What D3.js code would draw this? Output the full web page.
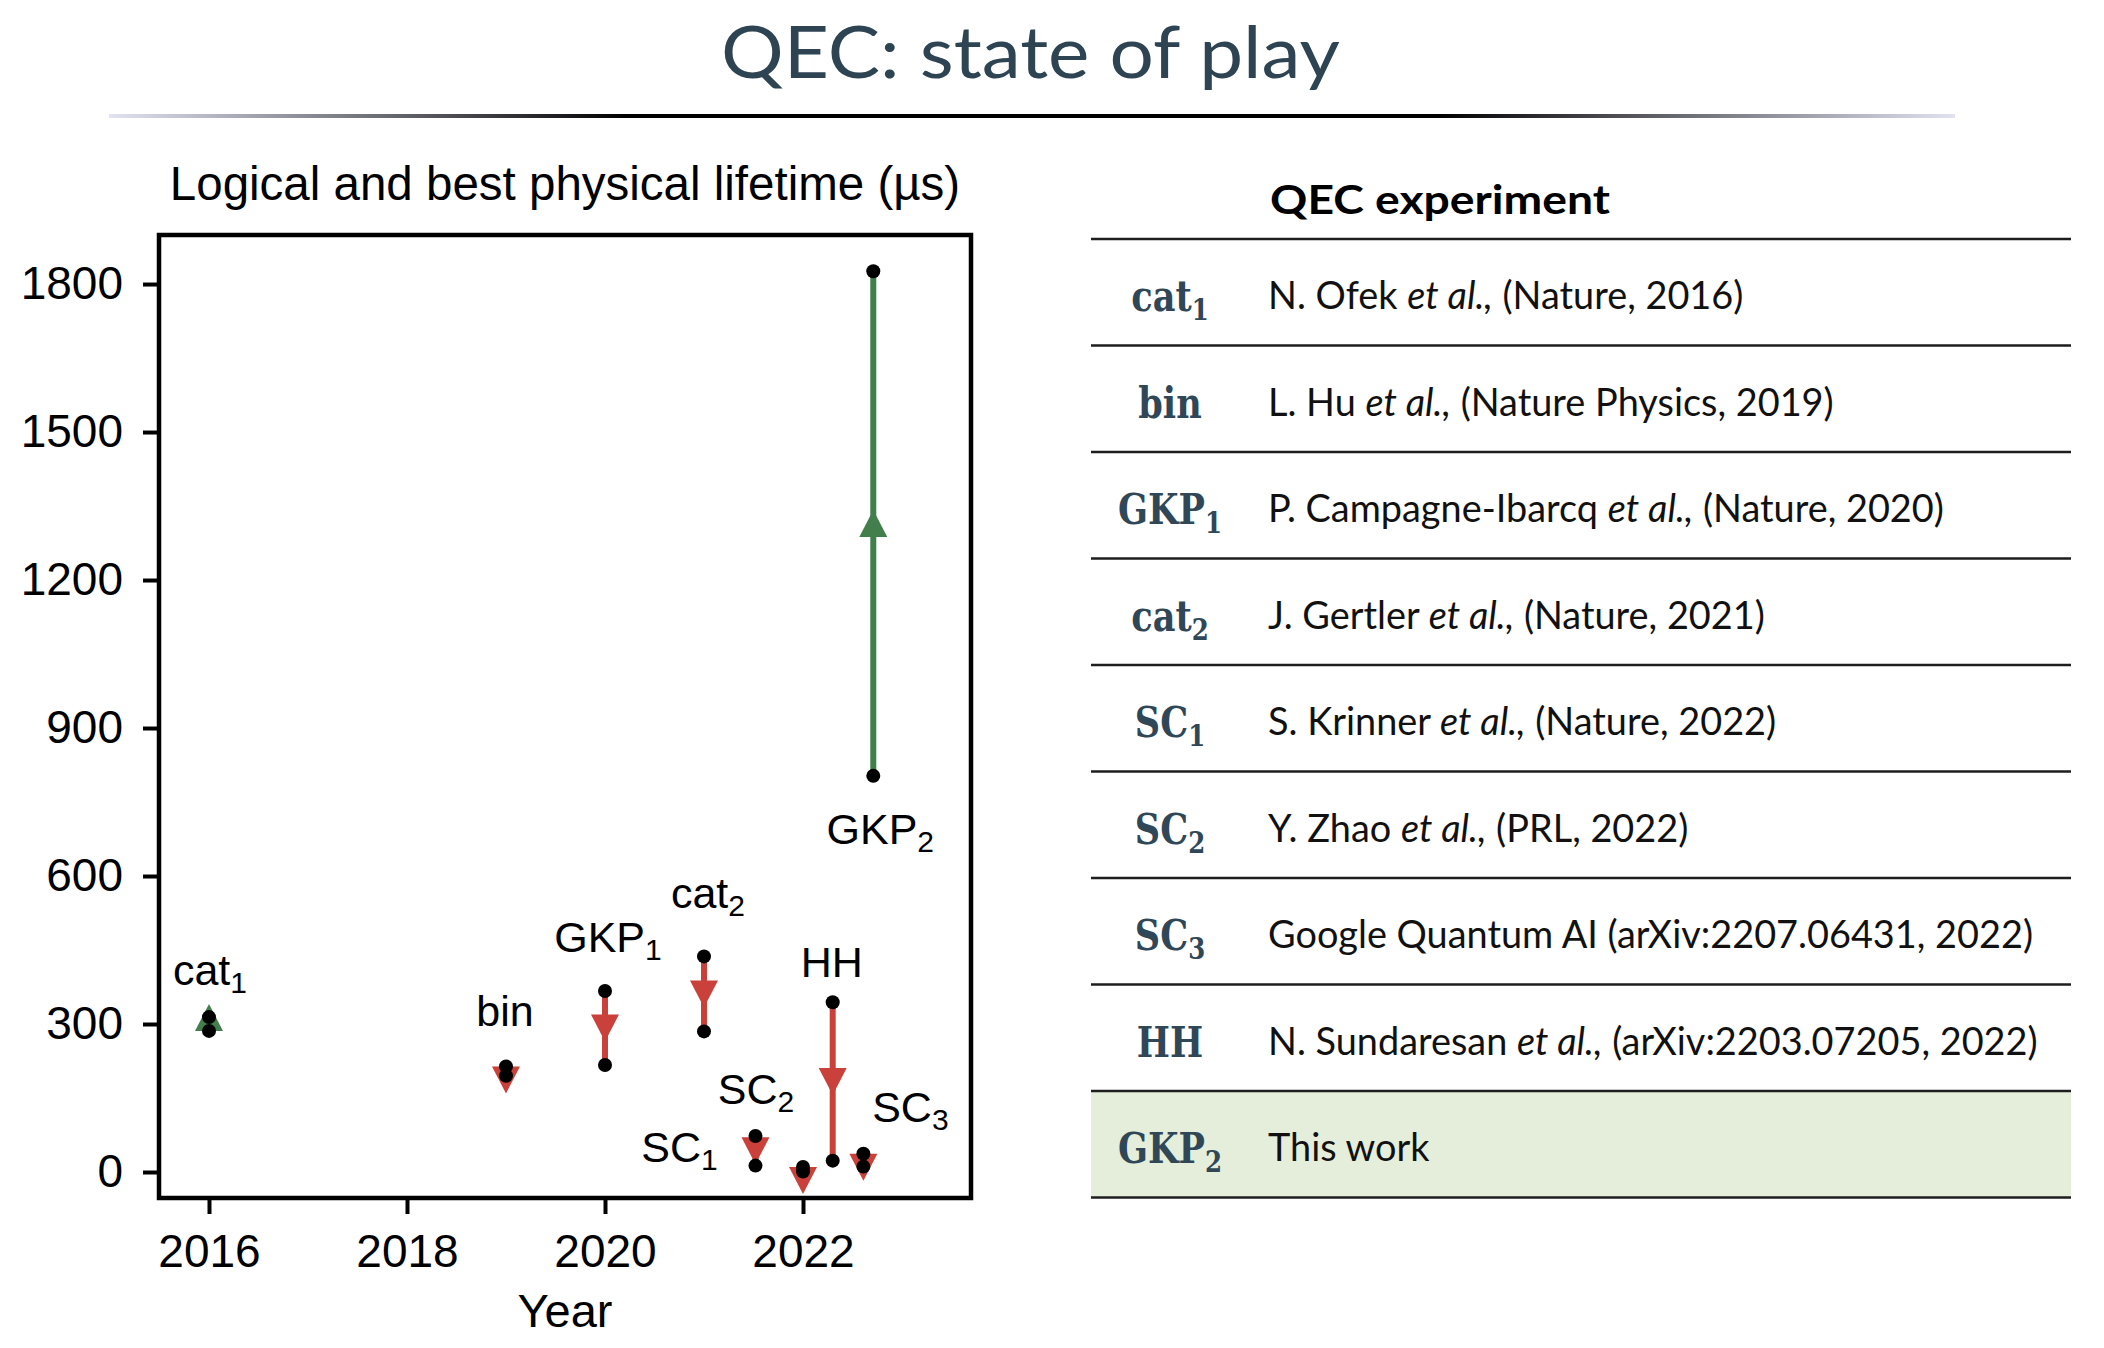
<!DOCTYPE html>
<html>
<head>
<meta charset="utf-8">
<script src="https://cdn.jsdelivr.net/npm/d3@7"></script>
<style>
body { margin: 0; background: #fff; }
</style>
</head>
<body>
<div id="chart"></div>
<script>
var width = 2104;
var height = 1348;

// Experiments, in table order
var names = ["cat", "bin", "GKP", "cat", "SC", "SC", "SC", "HH", "GKP"];
var subs = ["1", "", "1", "2", "1", "2", "3", "", "2"];
var years = [2016.0, 2019.0, 2020.0, 2021.0, 2021.52, 2022.0, 2022.61, 2022.30, 2022.71];
var physical = [286, 214, 367, 437, 73, 10, 37, 344, 803];   // best physical lifetime (us)
var logical = [314, 195, 217, 285, 13, 1, 11, 23, 1826];     // logical lifetime (us)

// Reference column
var authors = ["N. Ofek", "L. Hu", "P. Campagne-Ibarcq", "J. Gertler", "S. Krinner",
               "Y. Zhao", "Google Quantum AI", "N. Sundaresan", "This work"];
var etAl = [true, true, true, true, true, true, false, true, false];
var venues = ["(Nature, 2016)", "(Nature Physics, 2019)", "(Nature, 2020)", "(Nature, 2021)",
              "(Nature, 2022)", "(PRL, 2022)", "(arXiv:2207.06431, 2022)",
              "(arXiv:2203.07205, 2022)", ""];

var xTicks = [2016, 2018, 2020, 2022];
var yTicks = [0, 300, 600, 900, 1200, 1500, 1800];

// label placement, pixels from the physical point
var labelDx = [1, -1, 3, 4, -76, -47, 47, -1, 7];
var labelDy = [-46, -40, -39, -48, 26, -63, -32, -25, 68];

var green = "#427f4c";
var red = "#c9413a";
var slate = "#2e4453";
var sans = "'Liberation Sans', Arial, Helvetica, sans-serif";

var svg = d3.select('#chart')
			.append('svg')
			.attr('width', width)
			.attr('height', height);

svg.append('rect')
	.attr('width', width)
	.attr('height', height)
	.attr('fill', '#fff');

// Slide title and rule
svg.append('text')
	.attr('x', 721)
	.attr('y', 78)
	.attr('textLength', 619)
	.attr('lengthAdjust', 'spacingAndGlyphs')
	.style('font-family', 'Lato, sans-serif')
	.style('font-size', '72px')
	.style('fill', slate)
	.text('QEC: state of play');

var grad = svg.append('defs')
			.append('linearGradient')
			.attr('id', 'rule')
			.attr('x1', '0%').attr('x2', '100%');
[[0, '#e2e2f2'], [0.28, '#000'], [0.72, '#000'], [1, '#e2e2f2']].forEach(function(s){
	grad.append('stop').attr('offset', s[0]).attr('stop-color', s[1]);
});
svg.append('rect')
	.attr('x', 109).attr('y', 114)
	.attr('width', 1846).attr('height', 4)
	.attr('fill', 'url(#rule)');

// Chart
var x = d3.scaleLinear().domain([2015.495, 2023.697]).range([159, 971]);
var y = d3.scaleLinear().domain([-52.7, 1899.4]).range([1198, 235]);

var plot = svg.append('g');

var xAxis = plot.append('g')
	.attr('transform', 'translate(0,' + y.range()[0] + ')')
	.call(d3.axisBottom(x).tickValues(xTicks).tickFormat(d3.format('d')).tickSize(16).tickPadding(20));
var yAxis = plot.append('g')
	.attr('transform', 'translate(' + x.range()[0] + ',0)')
	.call(d3.axisLeft(y).tickValues(yTicks).tickFormat(d3.format('d')).tickSize(16).tickPadding(20));

[xAxis, yAxis].forEach(function(a){
	a.select('.domain').remove();
	a.selectAll('line').attr('stroke', '#000').attr('stroke-width', 4);
	a.selectAll('text').style('font-family', sans).style('font-size', '46px').attr('fill', '#000');
});

plot.append('text')
	.attr('x', 565).attr('y', 200)
	.attr('text-anchor', 'middle')
	.style('font-family', sans).style('font-size', '47.5px')
	.text('Logical and best physical lifetime (\u00b5s)');

plot.append('text')
	.attr('x', 565).attr('y', 1327)
	.attr('text-anchor', 'middle')
	.style('font-family', sans).style('font-size', '47px')
	.text('Year');

var idx = d3.range(names.length);
function colour(i){ return logical[i] > physical[i] ? green : red; }

plot.selectAll('line.span')
	.data(idx)
	.enter()
	.append('line')
	.attr('class', 'span')
	.attr('x1', function(i){ return x(years[i]); })
	.attr('x2', function(i){ return x(years[i]); })
	.attr('y1', function(i){ return y(physical[i]); })
	.attr('y2', function(i){ return y(logical[i]); })
	.attr('stroke', colour)
	.attr('stroke-width', 6);

// arrow head pointing from physical towards logical
var headW = 28, headH = 27;
plot.selectAll('path.head')
	.data(idx)
	.enter()
	.append('path')
	.attr('class', 'head')
	.attr('fill', colour)
	.attr('d', function(i){
		var cx = x(years[i]);
		var y0 = y(physical[i]);
		var dy = y(logical[i]) - y0;
		var s = dy < 0 ? -1 : 1;
		var tip = y0 + s * Math.max(Math.abs(dy) / 2 + headH / 2, headH);
		var base = tip - s * headH;
		return 'M' + (cx - headW / 2) + ',' + base + 'L' + (cx + headW / 2) + ',' + base + 'L' + cx + ',' + tip + 'Z';
	});

var dots = [];
idx.forEach(function(i){
	dots.push([years[i], physical[i]]);
	dots.push([years[i], logical[i]]);
});
plot.selectAll('circle')
	.data(dots)
	.enter()
	.append('circle')
	.attr('cx', function(d){ return x(d[0]); })
	.attr('cy', function(d){ return y(d[1]); })
	.attr('r', 7)
	.attr('fill', '#000');

var labels = plot.selectAll('text.lab')
	.data(idx)
	.enter()
	.append('text')
	.attr('class', 'lab')
	.attr('x', function(i){ return x(years[i]) + labelDx[i]; })
	.attr('y', function(i){ return y(physical[i]) + labelDy[i]; })
	.attr('text-anchor', 'middle')
	.style('font-family', sans)
	.style('font-size', '43px');
labels.append('tspan').text(function(i){ return names[i]; });
labels.append('tspan')
	.attr('dy', 8)
	.style('font-size', '30px')
	.text(function(i){ return subs[i]; });

plot.append('rect')
	.attr('x', x.range()[0]).attr('y', y.range()[1])
	.attr('width', x.range()[1] - x.range()[0])
	.attr('height', y.range()[0] - y.range()[1])
	.attr('fill', 'none')
	.attr('stroke', '#000')
	.attr('stroke-width', 4.5);

// Table
var table = svg.append('g');
var rowY = d3.scaleLinear().domain([0, names.length]).range([239, 1197.6]);

table.append('rect')
	.attr('x', 1091).attr('y', rowY(8))
	.attr('width', 980).attr('height', rowY(9) - rowY(8))
	.attr('fill', '#e5eedb');

table.selectAll('line')
	.data(d3.range(names.length + 1))
	.enter()
	.append('line')
	.attr('x1', 1091).attr('x2', 2071)
	.attr('y1', function(k){ return rowY(k); })
	.attr('y2', function(k){ return rowY(k); })
	.attr('stroke', '#1e1e1e')
	.attr('stroke-width', 2.5);

table.append('text')
	.attr('x', 1270).attr('y', 214)
	.attr('textLength', 340)
	.attr('lengthAdjust', 'spacingAndGlyphs')
	.style('font-family', 'Lato, sans-serif')
	.style('font-size', '41px')
	.style('font-weight', 'bold')
	.text('QEC experiment');

var keys = table.selectAll('text.key')
	.data(idx)
	.enter()
	.append('text')
	.attr('class', 'key')
	.attr('text-anchor', 'middle')
	.style('font-family', "'DejaVu Serif', serif")
	.style('font-weight', 'bold')
	.style('font-size', '43px')
	.style('fill', '#2f4757');
keys.append('tspan').text(function(i){ return names[i]; });
keys.append('tspan')
	.attr('dy', 9)
	.style('font-size', '30px')
	.text(function(i){ return subs[i]; });

var refs = table.selectAll('text.ref')
	.data(idx)
	.enter()
	.append('text')
	.attr('class', 'ref')
	.style('font-family', 'Lato, sans-serif')
	.style('font-size', '38px')
	.style('fill', '#111');
refs.append('tspan').text(function(i){ return authors[i] + (etAl[i] ? ' ' : ''); });
refs.append('tspan').style('font-style', 'italic').text(function(i){ return etAl[i] ? 'et al.,' : ''; });
refs.append('tspan').text(function(i){ return venues[i] ? ' ' + venues[i] : ''; });

// condense the fonts to the slide's narrow faces
var keyScale = 104 / keys.filter(function(i){ return i === 8; }).node().getComputedTextLength();
keys.attr('transform', function(i){
	return 'translate(1170,' + (rowY(i + 0.5) + 19) + ') scale(' + keyScale + ',1)';
});
var refScale = 770 / refs.filter(function(i){ return i === 7; }).node().getComputedTextLength();
refs.attr('transform', function(i){
	return 'translate(1268,' + (rowY(i + 0.5) + 17) + ') scale(' + refScale + ',1)';
});
</script>
</body>
</html>
